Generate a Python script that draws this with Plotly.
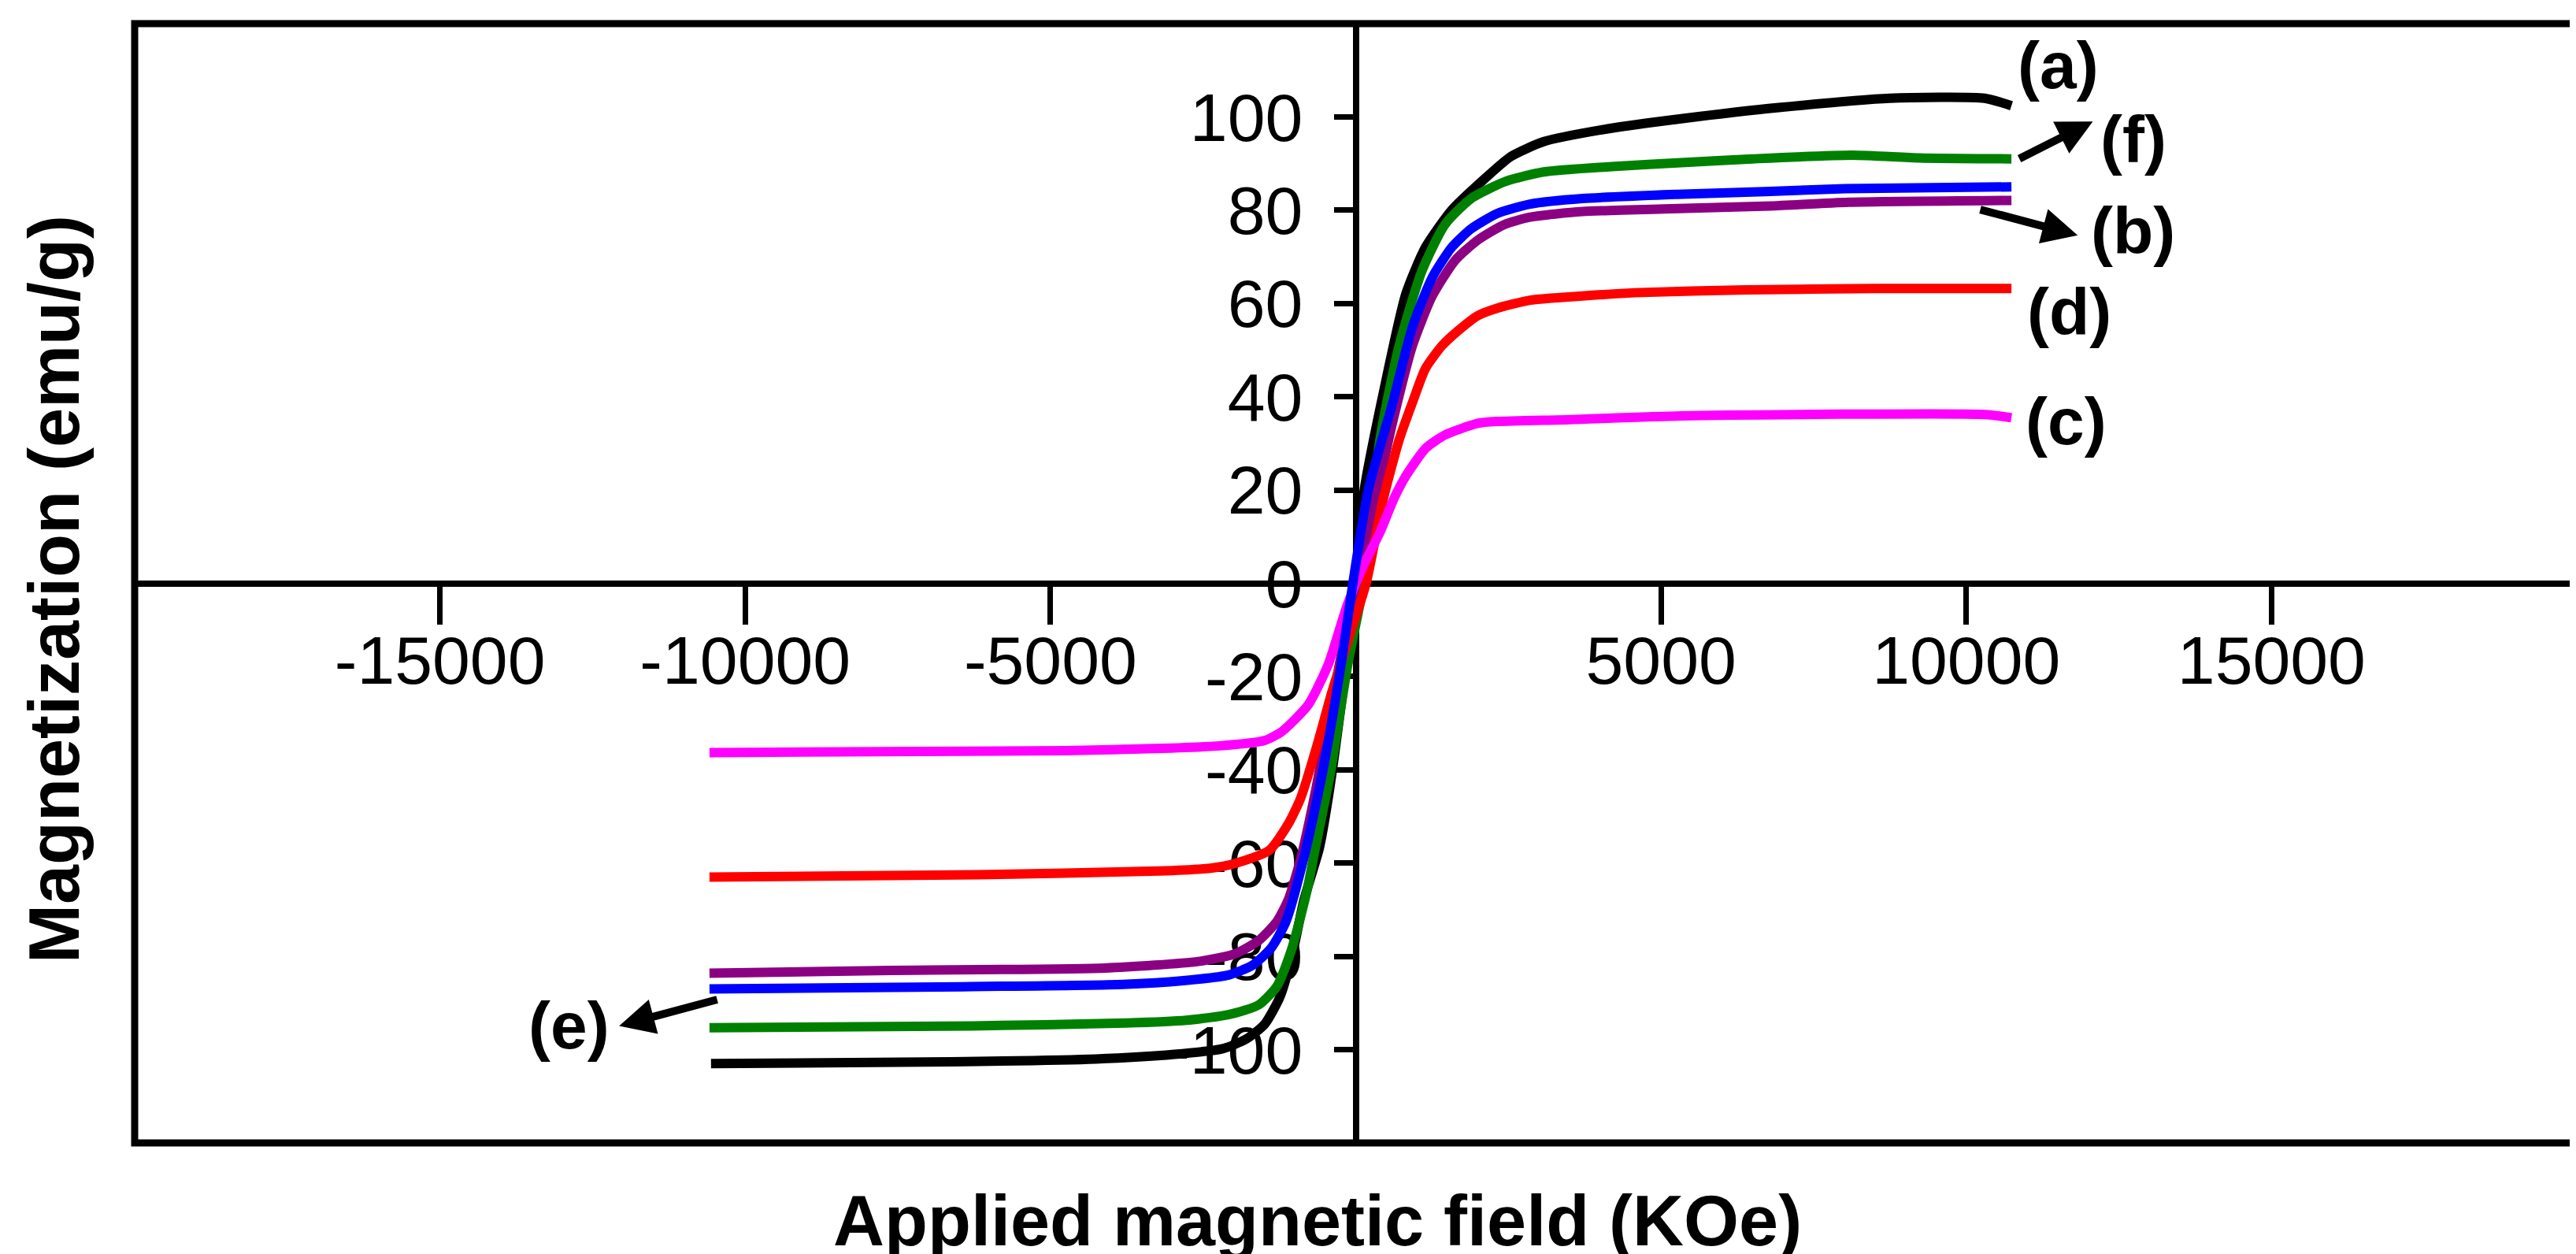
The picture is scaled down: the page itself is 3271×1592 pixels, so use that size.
import plotly.graph_objects as go

# applied field (Oe) and magnetization (emu/g), one pair per sample
field_a = [-10560, -6630, -4260, -2970, -2180, -1790, -1490, -1245, -1045, -850, -600, -450, -200, 0, 140, 465, 820, 1140, 1570, 2100, 2540, 3080, 4150, 5330, 6930, 8750, 10300, 10740]
mag_a = [-103, -102.6, -102, -101, -99.8, -97.7, -94.5, -88.8, -80, -68, -57, -46, -22, 0, 20, 41.6, 62, 72, 80, 86.6, 91.5, 94.7, 97.5, 99.6, 102, 104, 104, 102.4]

field_b = [-10585, -7620, -4110, -2580, -1985, -1590, -1290, -1100, -900, -650, -350, 0, 340, 607, 930, 1250, 1625, 2000, 2430, 2855, 3715, 5170, 6800, 8070, 10740]
mag_b = [-83.6, -83, -82.5, -81.1, -79.5, -76.6, -72.5, -67.7, -59, -44, -23, 0, 19, 34.7, 51, 61.5, 69.2, 73.6, 76.9, 78.5, 79.7, 80.3, 80.9, 81.7, 82.1]

field_c = [-10585, -4755, -2280, -1490, -1210, -775, -450, -150, 130, 400, 620, 820, 1150, 1460, 2000, 2320, 3500, 5330, 10300, 10740]
mag_c = [-36.3, -35.9, -34.9, -33.7, -31.8, -26, -17.4, -5.1, 3.9, 11, 18, 23, 29, 31.8, 34.3, 34.7, 35.1, 35.9, 36.2, 35.5]

field_d = [-10585, -6190, -3220, -2380, -1980, -1420, -1100, -900, -630, -390, -120, 170, 450, 710, 930, 1140, 1410, 1680, 2000, 2320, 2855, 3715, 4570, 6390, 8500, 10740]
mag_d = [-63, -62.5, -61.7, -61.1, -60.1, -57.3, -51.5, -46, -34.6, -23.3, -12, 0, 18, 30.7, 38.8, 46, 50.9, 54.2, 57.4, 59, 60.7, 61.6, 62.3, 62.9, 63.2, 63.2]

field_e = [-10585, -6430, -3815, -2825, -2085, -1690, -1390, -1145, -820, -540, -240, -47, 205, 607, 930, 1250, 1570, 1890, 2320, 2855, 3715, 5270, 6700, 8020, 10740]
mag_e = [-87, -86.5, -86, -85.2, -84, -81.9, -78.3, -72.6, -57.3, -40.3, -17.4, 0, 20, 38.8, 55, 65.5, 72, 76, 79.3, 81.3, 82.5, 83.4, 84, 84.6, 85]

field_f = [-10585, -6285, -3765, -2775, -2085, -1590, -1290, -1045, -800, -670, -410, -130, 130, 395, 710, 1085, 1460, 1890, 2460, 3080, 4250, 5330, 6500, 8130, 9230, 10740]
mag_f = [-95.3, -94.9, -94.3, -93.7, -92.5, -90.4, -86.4, -78.3, -66, -57.3, -40.3, -17.4, 0, 30.7, 50.9, 67, 76.9, 82.5, 86.2, 88.2, 89.4, 90.2, 91, 91.8, 91.2, 91]

x_ticks = [-15000, -10000, -5000, 5000, 10000, 15000]
y_ticks = [-100, -80, -60, -40, -20, 0, 20, 40, 60, 80, 100]

# curve labels: text, label position, arrow tail, arrow head (None = no arrow)
labels = [
    ("(a)", 11510, 111, None, None),
    ("(f)", 12735, 95.1, (10850, 90.9), (12073, 99)),
    ("(b)", 12730, 75.6, (10210, 80.2), (11825, 74.6)),
    ("(d)", 11690, 58.2, None, None),
    ("(c)", 11640, 34.7, None, None),
    ("(e)", -12880, -94.9, (-10440, -89.2), (-12065, -94.9)),
]

series = [
    (field_a, mag_a, "#000000"),
    (field_f, mag_f, "#008000"),
    (field_b, mag_b, "#8B0083"),
    (field_d, mag_d, "#FF0000"),
    (field_c, mag_c, "#FF00FF"),
    (field_e, mag_e, "#0000FF"),
]

fig = go.Figure()
for xs, ys, col in series:
    fig.add_trace(go.Scatter(x=xs, y=ys, mode="lines",
                             line=dict(color=col, width=12, shape="spline", smoothing=0.6),
                             showlegend=False, hoverinfo="skip"))

font_reg = "Arial, Liberation Sans, sans-serif"

annotations = []
for txt, lx, ly, tail, head in labels:
    annotations.append(dict(x=lx, y=ly, xref="x", yref="y", text="<b>" + txt + "</b>",
                            showarrow=False, font=dict(family=font_reg, size=84, color="black")))
    if tail is not None:
        annotations.append(dict(x=head[0], y=head[1], ax=tail[0], ay=tail[1], xref="x", yref="y",
                                axref="x", ayref="y", text="", showarrow=True,
                                arrowhead=2, arrowsize=0.9, arrowwidth=10, arrowcolor="black"))

annotations.append(dict(x=0.4844, y=-0.0697, xref="paper", yref="paper",
                        text="<b>Applied magnetic field (KOe)</b>", showarrow=False,
                        xanchor="center", yanchor="middle",
                        font=dict(family=font_reg, size=90, color="black")))
annotations.append(dict(x=-0.0329, y=0.4947, xref="paper", yref="paper",
                        text="<b>Magnetization (emu/g)</b>", showarrow=False, textangle=-90,
                        xanchor="center", yanchor="middle",
                        font=dict(family=font_reg, size=90, color="black")))

fig.update_layout(
    width=3271, height=1592,
    margin=dict(l=163, r=7, t=22, b=149),
    plot_bgcolor="white", paper_bgcolor="white",
    font=dict(family=font_reg, size=86, color="black"),
    annotations=annotations,
    shapes=[dict(type="rect", xref="paper", yref="paper", x0=0, y0=0, x1=1, y1=1,
                 line=dict(color="black", width=9), layer="above")],
    xaxis=dict(range=[-20000, 20000], anchor="free", position=0.5,
               showline=True, linecolor="black", linewidth=8,
               showgrid=False, zeroline=False,
               tickmode="array", tickvals=x_ticks, ticktext=[str(v) for v in x_ticks],
               ticks="outside", ticklen=48, tickwidth=7, tickcolor="black",
               ticklabelstandoff=-28, layer="below traces",
               tickfont=dict(family=font_reg, size=86, color="black")),
    yaxis=dict(range=[-120, 120], anchor="free", position=0.5,
               showline=True, linecolor="black", linewidth=8,
               showgrid=False, zeroline=False,
               tickmode="array", tickvals=y_ticks, ticktext=[str(v) for v in y_ticks],
               ticks="outside", ticklen=24, tickwidth=7, tickcolor="black",
               ticklabelstandoff=22, layer="below traces",
               tickfont=dict(family=font_reg, size=86, color="black")),
)

fig.write_html("out.html")
